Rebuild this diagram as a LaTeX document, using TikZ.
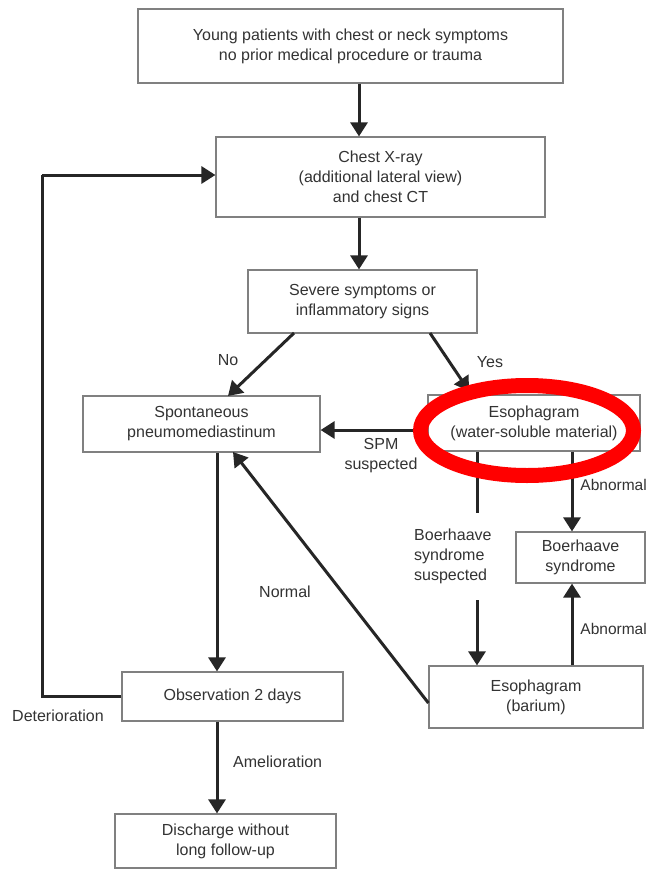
\documentclass[tikz,border=0pt]{standalone}
\usepackage{fontspec}
\setmainfont{Liberation Sans}
\usetikzlibrary{arrows.meta}
\definecolor{txt}{HTML}{333333}
\definecolor{boxline}{HTML}{808080}
\begin{document}
\begin{tikzpicture}[x=1pt,y=-1pt,
  every node/.style={font=\fontsize{16}{20}\selectfont, text=txt},
  box/.style={draw=boxline, line width=1.2pt, align=center, inner sep=0pt},
  lbl/.style={align=center, inner sep=0pt},
  arr/.style={line width=3pt, draw=black!85, -{Triangle[length=14pt,width=17pt]}},
  ln/.style={line width=3pt, draw=black!85}]
\useasboundingbox (0,0) rectangle (648,870);
\fill[white] (0,0) rectangle (648,870);
% boxes
\node[box, minimum width=425pt, minimum height=74pt] (b1) at (350.5,46) {Young patients with chest or neck symptoms\\no prior medical procedure or trauma};
\node[box, minimum width=329pt, minimum height=80pt] (b2) at (380.5,177) {Chest X-ray\\(additional lateral view)\\and chest CT};
\node[box, minimum width=229pt, minimum height=63pt] (b3) at (362.5,301.5) {Severe symptoms or\\inflammatory signs};
\node[box, minimum width=237pt, minimum height=56pt] (b4) at (201.5,424) {Spontaneous\\pneumomediastinum};
\node[box, minimum width=212pt, minimum height=56pt] (b5) at (534,423) {Esophagram\\(water-soluble material)};
\node[box, minimum width=129pt, minimum height=51pt] (b6) at (580.5,557.5) {Boerhaave\\syndrome};
\node[box, minimum width=214pt, minimum height=62pt] (b7) at (536,697) {Esophagram\\(barium)};
\node[box, minimum width=221pt, minimum height=49pt] (b8) at (232.5,696.5) {Observation 2 days};
\node[box, minimum width=221pt, minimum height=54pt] (b9) at (225.5,841) {Discharge without\\long follow-up};
% helper coordinates
\coordinate (c1) at (42,696.5);
\coordinate (c2) at (42,175);
\coordinate (bs) at (477,513);
\coordinate (bs2) at (477,600);
% connectors
\draw[arr] (b1.south -| 359,0) -- (b2.north -| 359,0);
\draw[arr] (b2.south -| 359,0) -- (b3.north -| 359,0);
\draw[arr] (294,333) -- (228,396);
\draw[arr] (430,333) -- (469,391);
\draw[arr] (b5.west |- 0,430) -- (b4.east |- 0,430);
\draw[ln] (b5.south -| bs) -- (bs);
\draw[arr] (bs2) -- (b7.north -| bs2);
\draw[arr] (b5.south -| 572,0) -- (b6.north -| 572,0);
\draw[arr] (b7.north -| 572,0) -- (b6.south -| 572,0);
\draw[arr] (b7.west |- 0,703) -- (233,452);
\draw[arr] (b4.south -| 217,0) -- (b8.north -| 217,0);
\draw[arr] (b8.south -| 217,0) -- (b9.north -| 217,0);
\draw[ln] (b8.west |- c1) -- (c1) -- (c2);
\draw[arr] (c2) -- (b2.west |- c2);
% labels
\node[lbl] (lno) at (228,360) {No};
\node[lbl] (lyes) at (490,362) {Yes};
\node[lbl] (lspm) at (381,456) {SPM\\suspected};
\node[lbl, align=left, anchor=west] (lbs) at (414,556) {Boerhaave\\syndrome\\suspected};
\node[lbl, anchor=east, font=\fontsize{15.5}{20}\selectfont] (lab1) at (647,485) {Abnormal};
\node[lbl, anchor=east, font=\fontsize{15.5}{20}\selectfont] (lab2) at (647,629) {Abnormal};
\node[lbl] (lnorm) at (285,592) {Normal};
\node[lbl, anchor=west] (ldet) at (12,716) {Deterioration};
\node[lbl, anchor=west] (lam) at (233,762) {Amelioration};
% red highlight
\draw[red, line width=15pt] (527,430.5) ellipse [x radius=106.5, y radius=45];
\end{tikzpicture}
\end{document}
